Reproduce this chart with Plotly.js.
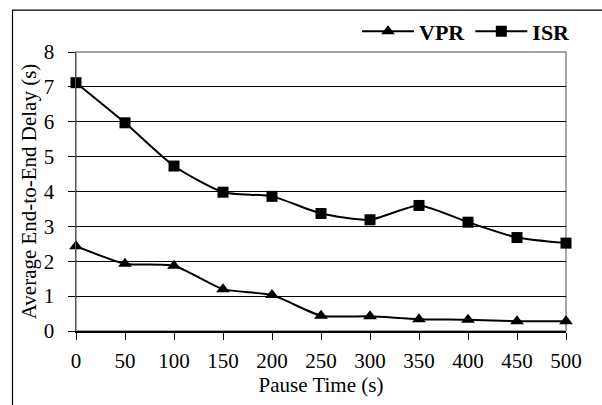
<!DOCTYPE html>
<html><head><meta charset="utf-8">
<script src="https://cdn.plot.ly/plotly-3.0.1.min.js"></script>
<style>body{margin:0;background:#fff}#c{width:602px;height:405px}</style>
</head><body><div id="c"></div>
<script>
const pauseTime = [0, 50, 100, 150, 200, 250, 300, 350, 400, 450, 500];
const vpr = [2.43, 1.93, 1.87, 1.20, 1.03, 0.44, 0.42, 0.34, 0.32, 0.28, 0.28];
const isr = [7.12, 5.97, 4.73, 3.98, 3.86, 3.37, 3.19, 3.60, 3.12, 2.68, 2.52];
const xTicks = [0, 50, 100, 150, 200, 250, 300, 350, 400, 450, 500];
const yTicks = [0, 1, 2, 3, 4, 5, 6, 7, 8];

const fam = '"Liberation Serif", "Times New Roman", serif';
const common = {mode: 'lines+markers', line: {color: '#000', width: 2, shape: 'spline', smoothing: 0.6}, cliponaxis: false};
const data = [
  Object.assign({x: pauseTime, y: vpr, name: '<b>VPR</b>', marker: {symbol: 'triangle-up', size: 12, color: '#000'}}, common),
  Object.assign({x: pauseTime, y: isr, name: '<b>ISR</b>', marker: {symbol: 'square', size: 11, color: '#000'}}, common)
];
const L = 76, R = 566, T = 51, B = 331, W = 602, H = 405;
const pw = R - L, ph = B - T;
const layout = {
  width: W, height: H,
  margin: {l: L, r: W - R, t: T, b: H - B},
  paper_bgcolor: '#fff', plot_bgcolor: '#fff',
  font: {family: fam, size: 21, color: '#000'},
  showlegend: true,
  legend: {orientation: 'h', x: (576 - L) / pw, xanchor: 'right', y: 1 + (T - 31.5) / ph, yanchor: 'middle',
           font: {family: fam, size: 22, color: '#000'}, bgcolor: 'rgba(0,0,0,0)', itemwidth: 52, tracegroupgap: 0},
  xaxis: {range: [0, 500], tickvals: xTicks, ticktext: xTicks.map(String), showgrid: false, zeroline: false,
          showline: true, linecolor: '#000', linewidth: 1.5, ticks: 'outside', ticklen: 7, tickcolor: '#000',
          ticklabelstandoff: 3, tickfont: {family: fam, size: 21},
          title: {text: 'Pause Time (s)', font: {family: fam, size: 21}, standoff: 4}},
  yaxis: {range: [0, 8], tickvals: yTicks, showgrid: true, gridcolor: '#000', gridwidth: 1, zeroline: false,
          showline: true, linecolor: '#555', linewidth: 1.5, ticks: 'outside', ticklen: 7, tickcolor: '#000',
          ticklabelstandoff: 9, tickfont: {family: fam, size: 21},
          title: {text: 'Average End-to-End Delay (s)', font: {family: fam, size: 21}, standoff: 1}},
  shapes: [
    {type: 'rect', xref: 'paper', yref: 'paper', x0: 0, x1: 1, y0: 0, y1: 1, line: {color: '#888', width: 1.5}, layer: 'below'},
    {type: 'rect', xref: 'paper', yref: 'paper', x0: (12.5 - L) / pw, x1: 1.3, y0: -0.5, y1: 1 + (T - 9) / ph, line: {color: '#000', width: 1.2}, layer: 'below'}
  ]
};
Plotly.newPlot('c', data, layout, {staticPlot: true});
</script></body></html>
